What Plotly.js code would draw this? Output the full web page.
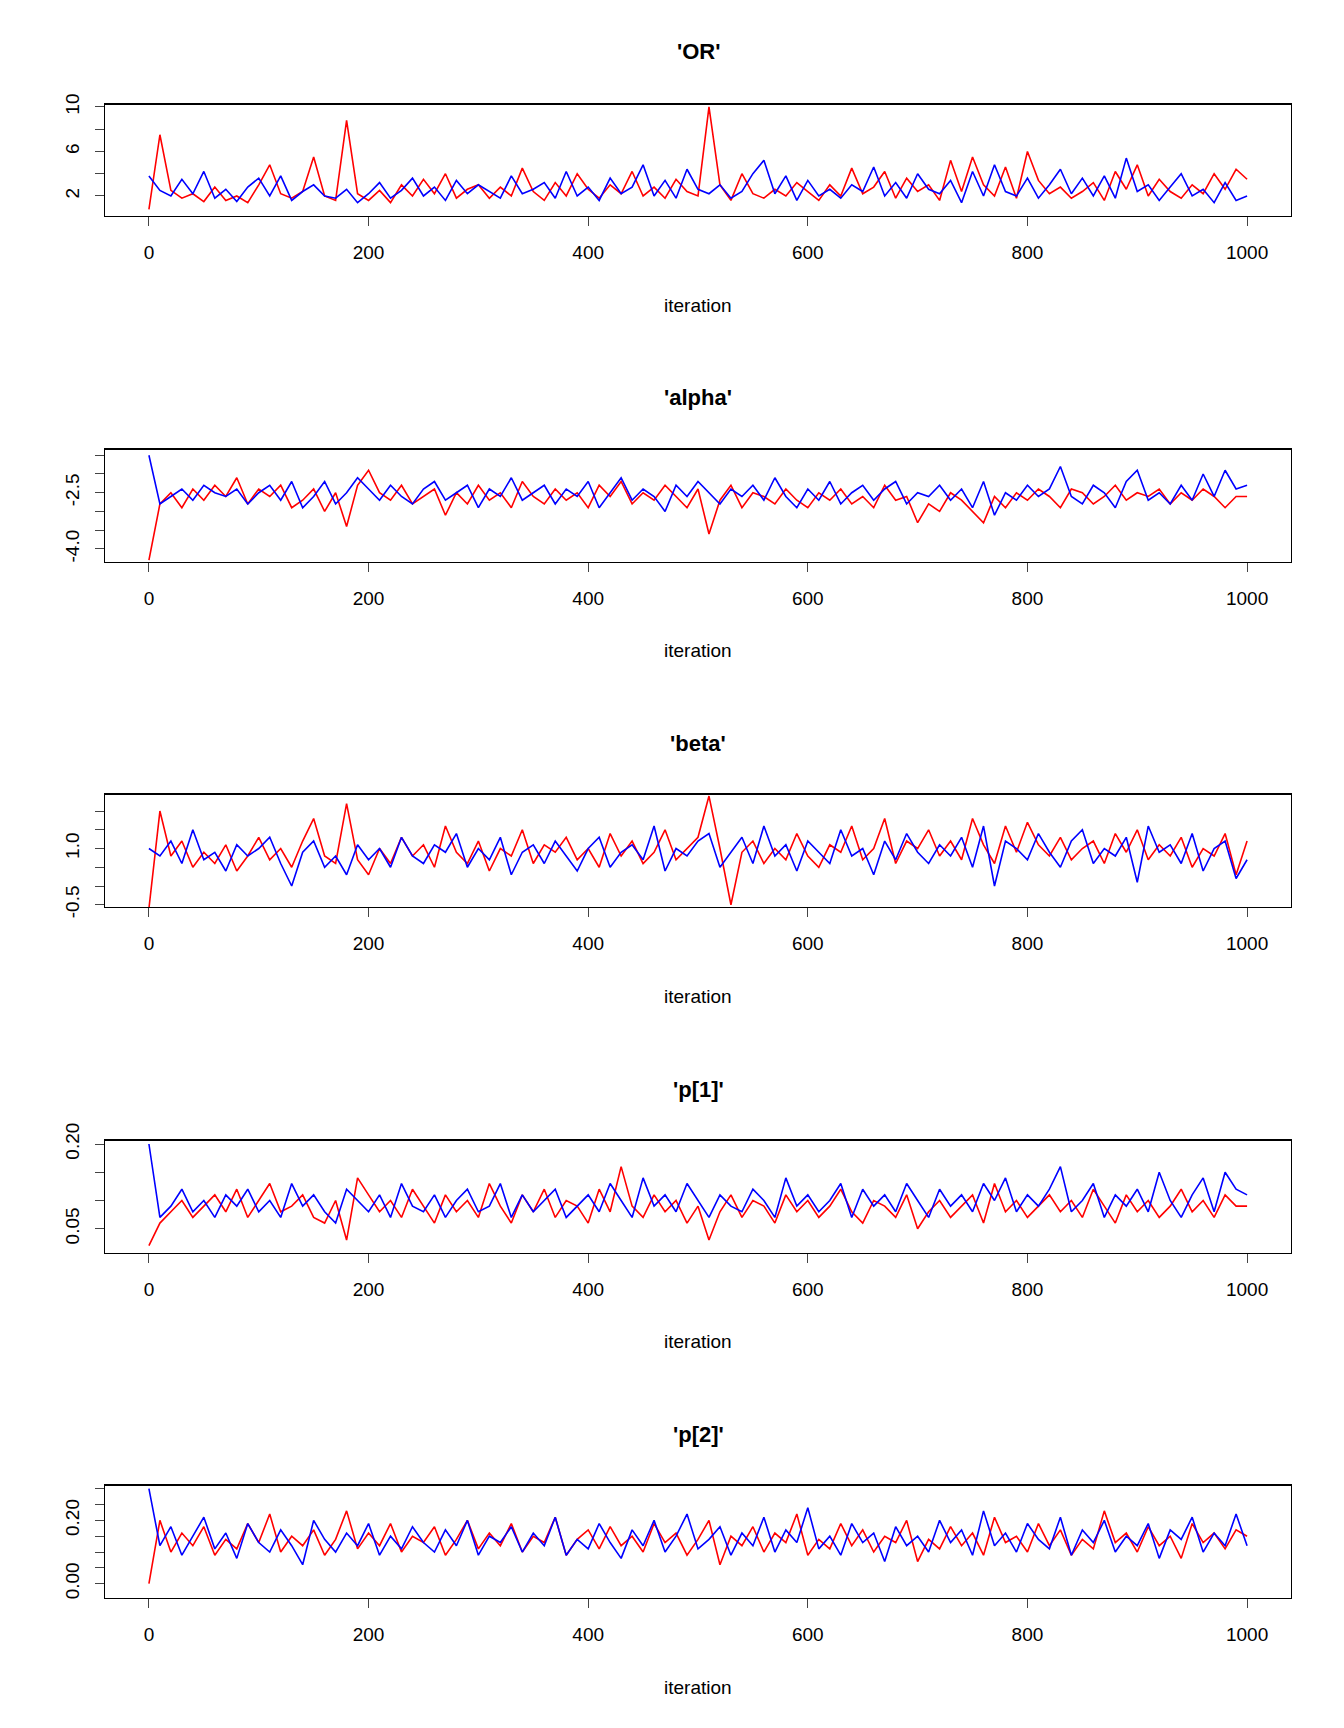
<!DOCTYPE html>
<html><head><meta charset="utf-8">
<script src="https://cdn.plot.ly/plotly-3.0.1.min.js"></script>
<style>body{margin:0;background:#fff}</style></head>
<body><div id="c" style="width:1344px;height:1728px"></div>
<script>
const params = ["'OR'", "'alpha'", "'beta'", "'p[1]'", "'p[2]'"];
const OR_red = [0.8,7.5,2.5,1.8,2.2,1.5,2.8,1.6,2.0,1.4,3.0,4.8,2.2,1.8,2.4,5.5,2.0,1.6,8.8,2.2,1.6,2.5,1.4,3.0,2.0,3.5,2.2,4.0,1.8,2.6,3.0,1.8,2.8,2.0,4.5,2.4,1.6,3.2,2.0,4.0,2.6,1.8,3.0,2.2,4.2,2.0,2.8,1.8,3.5,2.4,2.0,10.0,3.0,1.6,4.0,2.2,1.8,2.6,2.0,3.2,2.4,1.6,3.0,2.0,4.5,2.2,2.8,4.2,1.8,3.6,2.4,3.0,1.6,5.2,2.4,5.5,3.0,2.0,4.6,1.8,6.0,3.4,2.2,2.8,1.8,2.4,3.2,1.6,4.2,2.6,4.8,2.0,3.5,2.4,1.8,3.0,2.2,4.0,2.6,4.4,3.5];
const OR_blue = [3.8,2.5,2.0,3.5,2.2,4.2,1.8,2.6,1.5,2.8,3.6,2.0,3.8,1.6,2.4,3.0,2.0,1.8,2.6,1.4,2.2,3.2,1.8,2.5,3.6,2.0,2.8,1.6,3.4,2.2,3.0,2.4,1.8,3.8,2.2,2.6,3.2,1.8,4.2,2.0,2.8,1.6,3.6,2.2,2.8,4.8,2.0,3.4,1.8,4.4,2.6,2.2,3.0,1.8,2.4,4.0,5.2,2.2,3.8,1.6,3.4,2.0,2.6,1.8,3.0,2.4,4.6,2.0,3.2,1.8,4.0,2.6,2.2,3.4,1.4,4.2,2.0,4.8,2.4,2.0,3.6,1.8,3.0,4.4,2.2,3.6,2.0,3.8,1.8,5.4,2.4,3.0,1.6,2.8,4.0,2.0,2.6,1.4,3.2,1.6,2.0];
const alpha_red = [-4.3,-2.8,-2.5,-2.9,-2.4,-2.7,-2.3,-2.6,-2.1,-2.8,-2.4,-2.6,-2.3,-2.9,-2.7,-2.4,-3.0,-2.5,-3.4,-2.3,-1.9,-2.5,-2.7,-2.3,-2.8,-2.6,-2.4,-3.1,-2.5,-2.8,-2.3,-2.7,-2.5,-2.9,-2.2,-2.6,-2.8,-2.4,-2.7,-2.5,-2.9,-2.3,-2.6,-2.2,-2.8,-2.5,-2.7,-2.3,-2.6,-2.9,-2.4,-3.6,-2.7,-2.3,-2.9,-2.5,-2.6,-2.8,-2.4,-2.7,-2.9,-2.5,-2.7,-2.4,-2.8,-2.6,-2.9,-2.3,-2.7,-2.6,-3.3,-2.8,-3.0,-2.5,-2.7,-3.0,-3.3,-2.6,-2.9,-2.5,-2.7,-2.4,-2.6,-2.9,-2.4,-2.5,-2.8,-2.6,-2.3,-2.7,-2.5,-2.6,-2.4,-2.8,-2.5,-2.7,-2.4,-2.6,-2.9,-2.6,-2.6];
const alpha_blue = [-1.5,-2.8,-2.6,-2.4,-2.7,-2.3,-2.5,-2.6,-2.4,-2.8,-2.5,-2.3,-2.7,-2.2,-2.9,-2.6,-2.2,-2.8,-2.5,-2.1,-2.4,-2.7,-2.3,-2.6,-2.8,-2.4,-2.2,-2.7,-2.5,-2.3,-2.9,-2.4,-2.6,-2.1,-2.7,-2.5,-2.3,-2.8,-2.4,-2.6,-2.2,-2.9,-2.5,-2.1,-2.7,-2.4,-2.6,-3.0,-2.3,-2.6,-2.2,-2.5,-2.8,-2.4,-2.6,-2.3,-2.7,-2.1,-2.6,-2.9,-2.4,-2.7,-2.2,-2.8,-2.5,-2.3,-2.7,-2.4,-2.2,-2.8,-2.5,-2.6,-2.3,-2.7,-2.4,-2.9,-2.2,-3.1,-2.5,-2.7,-2.3,-2.6,-2.4,-1.8,-2.6,-2.8,-2.3,-2.5,-2.9,-2.2,-1.9,-2.7,-2.5,-2.8,-2.3,-2.7,-2.0,-2.6,-1.9,-2.4,-2.3];
const beta_red = [-0.6,2.0,0.8,1.2,0.5,0.9,0.6,1.1,0.4,0.8,1.3,0.7,1.0,0.5,1.2,1.8,0.8,0.6,2.2,0.7,0.3,1.0,0.6,1.3,0.8,1.1,0.5,1.6,0.9,0.6,1.2,0.4,1.0,0.8,1.5,0.6,1.1,0.9,1.3,0.7,1.0,0.5,1.4,0.8,1.2,0.6,0.9,1.5,0.7,1.0,1.3,2.4,1.0,-0.5,0.9,1.2,0.6,1.0,0.7,1.4,0.8,0.5,1.1,0.9,1.6,0.7,1.0,1.8,0.6,1.2,1.0,1.5,0.8,1.2,0.7,1.8,1.1,0.6,1.6,0.9,1.7,1.1,0.8,1.3,0.7,1.0,1.2,0.6,1.4,0.9,1.5,0.7,1.1,0.8,1.3,0.5,1.0,0.8,1.4,0.3,1.2];
const beta_blue = [1.0,0.8,1.2,0.6,1.5,0.7,0.9,0.4,1.1,0.8,1.0,1.3,0.6,0.0,0.9,1.2,0.5,0.8,0.3,1.1,0.7,1.0,0.5,1.3,0.8,0.6,1.1,0.9,1.4,0.5,1.0,0.7,1.3,0.3,0.9,1.1,0.6,1.2,0.8,0.4,1.0,1.3,0.5,0.9,1.1,0.7,1.6,0.4,1.0,0.8,1.2,1.4,0.5,0.9,1.3,0.6,1.6,0.8,1.1,0.4,1.2,0.9,0.6,1.5,0.8,1.0,0.3,1.2,0.7,1.4,0.9,0.6,1.1,0.8,1.3,0.5,1.6,0.0,1.2,1.0,0.7,1.4,0.9,0.5,1.2,1.5,0.6,1.0,0.8,1.3,0.1,1.6,0.9,1.1,0.6,1.4,0.4,1.0,1.2,0.2,0.7];
const p1_red = [0.02,0.06,0.08,0.10,0.07,0.09,0.11,0.08,0.12,0.07,0.10,0.13,0.08,0.09,0.11,0.07,0.06,0.10,0.03,0.14,0.11,0.08,0.10,0.07,0.12,0.09,0.06,0.11,0.08,0.10,0.07,0.13,0.09,0.06,0.11,0.08,0.12,0.07,0.10,0.09,0.06,0.12,0.08,0.16,0.09,0.07,0.11,0.08,0.10,0.06,0.09,0.03,0.08,0.11,0.07,0.10,0.09,0.06,0.11,0.08,0.10,0.07,0.09,0.12,0.08,0.06,0.10,0.09,0.07,0.11,0.05,0.08,0.10,0.07,0.09,0.11,0.06,0.13,0.08,0.10,0.07,0.09,0.11,0.08,0.10,0.07,0.12,0.09,0.06,0.11,0.08,0.10,0.07,0.09,0.12,0.08,0.10,0.07,0.11,0.09,0.09];
const p1_blue = [0.20,0.07,0.09,0.12,0.08,0.10,0.07,0.11,0.09,0.12,0.08,0.10,0.07,0.13,0.09,0.11,0.08,0.06,0.12,0.10,0.08,0.11,0.07,0.13,0.09,0.08,0.11,0.07,0.10,0.12,0.08,0.09,0.13,0.07,0.11,0.08,0.10,0.12,0.07,0.09,0.11,0.08,0.13,0.10,0.07,0.14,0.09,0.11,0.08,0.13,0.10,0.07,0.11,0.09,0.08,0.12,0.10,0.07,0.14,0.09,0.11,0.08,0.10,0.13,0.07,0.12,0.09,0.11,0.08,0.13,0.10,0.07,0.12,0.09,0.11,0.08,0.13,0.10,0.14,0.08,0.11,0.09,0.12,0.16,0.08,0.10,0.13,0.07,0.11,0.09,0.12,0.08,0.15,0.10,0.07,0.11,0.14,0.08,0.15,0.12,0.11];
const p2_red = [0.00,0.20,0.10,0.16,0.12,0.18,0.09,0.14,0.11,0.19,0.13,0.22,0.10,0.15,0.12,0.17,0.09,0.14,0.23,0.11,0.16,0.12,0.19,0.10,0.15,0.13,0.18,0.09,0.14,0.20,0.11,0.16,0.12,0.19,0.10,0.15,0.13,0.21,0.09,0.14,0.17,0.11,0.18,0.12,0.15,0.10,0.19,0.13,0.16,0.09,0.14,0.20,0.06,0.15,0.12,0.18,0.10,0.16,0.13,0.22,0.09,0.14,0.11,0.19,0.12,0.17,0.10,0.15,0.13,0.20,0.07,0.14,0.11,0.18,0.12,0.16,0.09,0.21,0.13,0.15,0.10,0.19,0.12,0.17,0.09,0.14,0.11,0.23,0.13,0.16,0.10,0.18,0.12,0.15,0.08,0.19,0.13,0.16,0.11,0.17,0.15];
const p2_blue = [0.30,0.12,0.18,0.09,0.15,0.21,0.11,0.16,0.08,0.19,0.13,0.10,0.17,0.12,0.06,0.20,0.14,0.10,0.16,0.12,0.19,0.09,0.15,0.11,0.18,0.13,0.10,0.17,0.12,0.20,0.09,0.15,0.13,0.18,0.10,0.16,0.12,0.21,0.09,0.14,0.11,0.19,0.13,0.08,0.17,0.12,0.20,0.10,0.15,0.22,0.11,0.14,0.18,0.09,0.16,0.12,0.21,0.10,0.17,0.13,0.24,0.11,0.15,0.09,0.19,0.13,0.16,0.07,0.18,0.12,0.15,0.10,0.20,0.13,0.17,0.09,0.23,0.12,0.16,0.10,0.19,0.14,0.11,0.21,0.09,0.17,0.13,0.20,0.10,0.15,0.12,0.19,0.08,0.17,0.14,0.21,0.10,0.16,0.12,0.22,0.12];
const xTicks = [0,200,400,600,800,1000];
const yTickVals = [[2,4,6,8,10],[-4,-3.5,-3,-2.5,-2,-1.5],[-0.5,0,0.5,1,1.5,2],[0.05,0.1,0.15,0.2],[0,0.05,0.1,0.15,0.2,0.25,0.3]];
const yTickText = [["2","","6","","10"],["-4.0","","","-2.5","",""],["-0.5","","","1.0","",""],["0.05","","","0.20"],["0.00","","","","0.20","",""]];
const yRanges = [[0.2,10.2],[-4.35,-1.35],[-0.56,2.44],[0.007,0.206],[-0.045,0.31]];
const series = [[OR_red,OR_blue],[alpha_red,alpha_blue],[beta_red,beta_blue],[p1_red,p1_blue],[p2_red,p2_blue]];

const H = 1568;
const tops = [95,408,721,1035,1348], bots = [196,510,823,1137,1450];
const titleY = [47,361,675,989,1302], labY = [277,590,904,1217,1531];
const font = {family:'Liberation Sans, Arial, sans-serif', color:'#000'};
const data = [], layout = {width:1344,height:1728,margin:{l:105,r:53,t:0,b:0},showlegend:false,
  paper_bgcolor:'#fff',plot_bgcolor:'#fff',font:Object.assign({size:19},font),annotations:[]};
series.forEach((pair,k)=>{
  const xa = k===0?'x':'x'+(k+1), ya = k===0?'y':'y'+(k+1);
  pair.forEach((v,j)=>{
    data.push({type:'scatter',mode:'lines',x:v.map((_,i)=>i*1000/(v.length-1)),y:v,
      xaxis:xa,yaxis:ya,line:{color:j===0?'#FF0000':'#0000FF',width:1.6},hoverinfo:'skip'});
  });
  const ak = k===0?'':String(k+1);
  layout['xaxis'+ak] = {range:[-40,1040],tickvals:xTicks,ticks:'outside',ticklen:9,ticklabelstandoff:10,showline:true,mirror:true,
    linecolor:'#000',linewidth:1.3,showgrid:false,zeroline:false,anchor:'y'+ak,domain:[0,1],tickfont:{size:19}};
  layout['yaxis'+ak] = {range:yRanges[k],tickvals:yTickVals[k],ticktext:yTickText[k],ticks:'outside',ticklen:9,ticklabelstandoff:8,
    tickangle:-90,showline:true,mirror:true,linecolor:'#000',linewidth:1.3,showgrid:false,zeroline:false,
    anchor:'x'+ak,domain:[1-bots[k]/H,1-tops[k]/H],tickfont:{size:19}};
  layout.annotations.push({text:'<b>'+params[k]+'</b>',xref:'paper',yref:'paper',x:0.5,y:1-titleY[k]/H,
    showarrow:false,font:{size:22},xanchor:'center',yanchor:'middle'});
  layout.annotations.push({text:'iteration',xref:'paper',yref:'paper',x:0.5,y:1-labY[k]/H,
    showarrow:false,font:{size:19},xanchor:'center',yanchor:'middle'});
});
Plotly.newPlot('c',data,layout,{displayModeBar:false,staticPlot:true});
</script></body></html>
